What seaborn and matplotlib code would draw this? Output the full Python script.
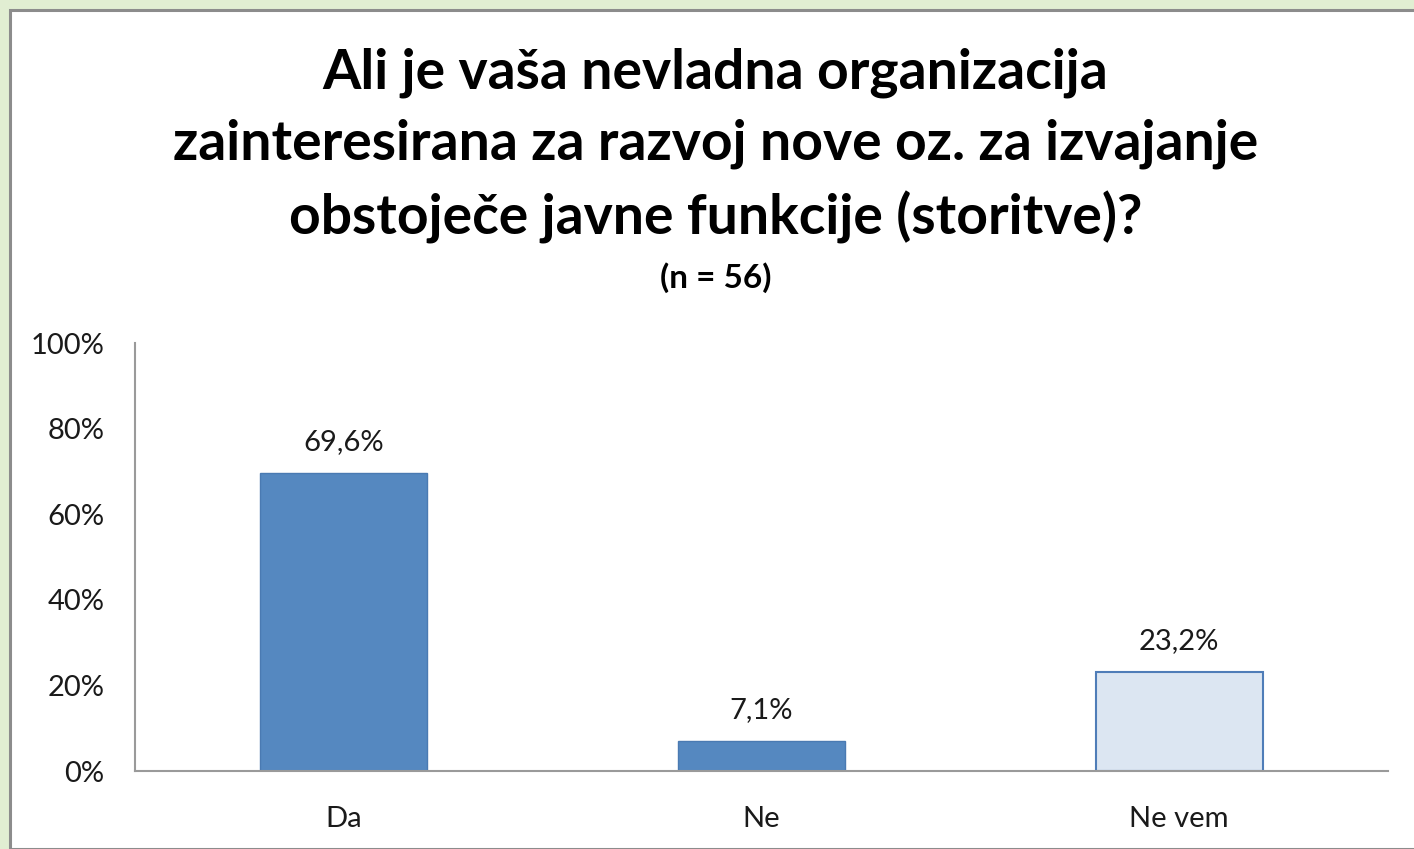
import matplotlib.pyplot as plt
import matplotlib.patches as patches
import seaborn as sns
import pandas as pd

# data
categories = ["Da", "Ne", "Ne vem"]
shares = [69.6, 7.1, 23.2]
value_labels = ["69,6%", "7,1%", "23,2%"]
yticks = [0, 20, 40, 60, 80, 100]

title = ("Ali je vaša nevladna organizacija\n"
         "zainteresirana za razvoj nove oz. za izvajanje\n"
         "obstoječe javne funkcije (storitve)?")
subtitle = "(n = 56)"

sns.set_style("white")
plt.rcParams["font.family"] = ["Lato", "DejaVu Sans"]

W, H = 1414, 849
fig = plt.figure(figsize=(W / 100, H / 100), dpi=100, facecolor="#e1eed2")

# white chart panel with grey frame
frame = patches.Rectangle((9.5 / W, 0), 1.2, 1 - 9.5 / H, transform=fig.transFigure,
                          facecolor="white", edgecolor="#8c8c8c", linewidth=2.2, zorder=-10)
fig.patches.append(frame)

ax = fig.add_axes([135 / W, 1 - 771 / H, (1388 - 135) / W, (771 - 343) / H])
ax.set_facecolor("none")
ax.set_zorder(5)

df = pd.DataFrame({"cat": categories, "val": shares})
sns.barplot(data=df, x="cat", y="val", ax=ax, width=0.4, color="#5588c0",
            edgecolor="#4a78b0", linewidth=1.2)
fills = ["#5588c0", "#5588c0", "#dce6f2"]
edges = ["#4a7ab2", "#4a7ab2", "#4f7db8"]
for bar, fc, ec in zip(ax.patches, fills, edges):
    bar.set_facecolor(fc)
    bar.set_edgecolor(ec)
    bar.set_linewidth(1.5 if fc == "#dce6f2" else 1.0)

for i, (v, lab) in enumerate(zip(shares, value_labels)):
    ax.annotate(lab, (i, v), xytext=(0, 13), textcoords="offset points",
                ha="center", va="bottom", fontsize=21, color="#1a1a1a")

ax.set_ylim(0, 100)
ax.set_xlim(-0.5, 2.5)
ax.set_yticks(yticks)
ax.set_yticklabels([f"{t}%" for t in yticks], fontsize=21, color="#1a1a1a")
ax.tick_params(axis="x", labelsize=21, colors="#1a1a1a", pad=25, length=0)
ax.tick_params(axis="y", pad=22, length=0)
ax.set_xlabel("")
ax.set_ylabel("")
for s in ["top", "right"]:
    ax.spines[s].set_visible(False)
for s in ["left", "bottom"]:
    ax.spines[s].set_color("#9a9a9a")
    ax.spines[s].set_linewidth(1.5)

fig.text(0.506, 1 - 146 / H, title, ha="center", va="center", fontsize=39.8,
         fontweight="bold", linespacing=1.5, color="black")
fig.text(0.506, 1 - 278 / H, subtitle, ha="center", va="center", fontsize=24,
         fontweight="bold", color="black")

fig.savefig("out.png", dpi=100, facecolor=fig.get_facecolor())
